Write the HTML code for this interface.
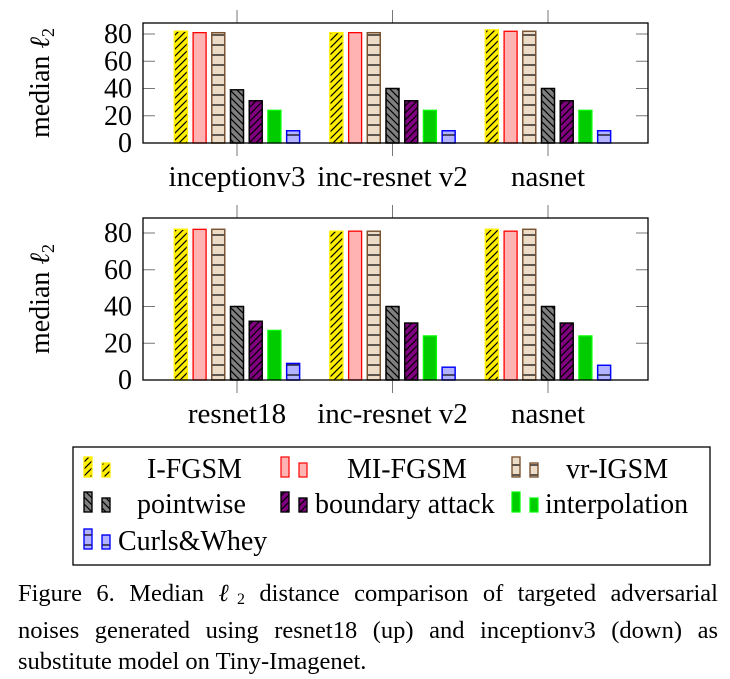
<!DOCTYPE html>
<html><head><meta charset="utf-8"><style>
body{margin:0;background:#fff;width:730px;height:679px;overflow:hidden;position:relative}
svg{display:block;position:absolute;left:0;top:0}
svg text{font-family:"Liberation Serif","DejaVu Serif",serif;fill:#000}
#cap{position:absolute;left:18px;top:578px;width:700px;font-family:"Liberation Serif","DejaVu Serif",serif;font-size:24.5px;line-height:31px;color:#000}
#cap div{text-align:justify;text-align-last:justify;white-space:nowrap}
#cap div.last{text-align-last:left}
</style></head><body>
<svg id="svg" width="730" height="679" viewBox="0 0 730 679" font-family="Liberation Serif, serif">
<defs>
<pattern id="pNE" patternUnits="userSpaceOnUse" width="7" height="7"><path d="M-1,1 l2,-2 M0,7 l7,-7 M6,8 l2,-2" stroke="#000" stroke-width="1.2"/></pattern>
<pattern id="pNW" patternUnits="userSpaceOnUse" width="7" height="7"><path d="M-1,6 l2,2 M0,0 l7,7 M6,-1 l2,2" stroke="#000" stroke-width="1.2"/></pattern>
<pattern id="pH" patternUnits="userSpaceOnUse" width="7" height="10"><path d="M0,5 h7" stroke="#000" stroke-width="1.2"/></pattern>
</defs>
<g id="charts"></g>
<rect x="73" y="447" width="637" height="118" fill="none" stroke="#000" stroke-width="1.3"/>
<g id="legend"></g>
</svg>
<div id="cap">
<div>Figure 6. Median <i>ℓ</i><sub style="font-size:16px;vertical-align:-3px">2</sub> distance comparison of targeted adversarial</div>
<div>noises generated using resnet18 (up) and inceptionv3 (down) as</div>
<div class="last">substitute model on Tiny-Imagenet.</div>
</div>
<script>
const seriesNames=["I-FGSM","MI-FGSM","vr-IGSM","pointwise","boundary attack","interpolation","Curls&Whey"];
const topCategories=["inceptionv3","inc-resnet v2","nasnet"];
const bottomCategories=["resnet18","inc-resnet v2","nasnet"];
const topValues=[[82,81,81,39,31,24,9],[81,81,81,40,31,24,9],[83,82,82,40,31,24,9]];
const bottomValues=[[82,82,82,40,32,27,9],[81,81,81,40,31,24,7],[82,81,82,40,31,24,8]];
const yTicks=[0,20,40,60,80];
const styles=[
 {fill:"#ffee00",stroke:"#ffee00",pat:"pNE"},
 {fill:"#ffb3b3",stroke:"#ff0000",pat:null},
 {fill:"#eddcc8",stroke:"#7a5230",pat:"pH"},
 {fill:"#808080",stroke:"#000",pat:"pNW"},
 {fill:"#800080",stroke:"#000",pat:"pNE"},
 {fill:"#00cc00",stroke:"#00ff00",pat:null},
 {fill:"#b3b3ff",stroke:"#0000ff",pat:"pH"}];
const NS="http://www.w3.org/2000/svg";
function mk(tag,attrs,parent){const e=document.createElementNS(NS,tag);for(const k in attrs)e.setAttribute(k,attrs[k]);parent.appendChild(e);return e;}
const root=document.getElementById('charts');
function chart(cats,vals,top,bottom,y80,name){
 const g=mk('g',{},root);
 
 
 const L=143,R=648;
 const y=v=>bottom-(bottom-y80)*v/80;
 const x=i=>237+i*155.5;
 yTicks.forEach(t=>{
  mk('line',{x1:L,x2:L+12,y1:y(t),y2:y(t),stroke:'#777'},g);
  mk('line',{x1:R-12,x2:R,y1:y(t),y2:y(t),stroke:'#777'},g);
  const tx=mk('text',{x:132,y:y(t)+9,'font-size':28,'text-anchor':'end'},g);tx.textContent=t;
  
  
 });
 cats.forEach((c,i)=>{
  mk('line',{x1:x(i),x2:x(i),y1:top-13,y2:top,stroke:'#777'},g);
  mk('line',{x1:x(i),x2:x(i),y1:bottom,y2:bottom+13,stroke:'#777'},g);
  const tx=mk('text',{x:x(i),y:bottom+43,'font-size':29,'text-anchor':'middle'},g);tx.textContent=c;
  
  
  vals[i].forEach((v,j)=>{
   const cx=x(i)+(j-3)*18.7, w=13, s=styles[j];
   const r=mk('rect',{x:cx-w/2,y:y(v),width:w,height:bottom-y(v),fill:s.fill,stroke:s.stroke,'stroke-width':1.3},g);
   
   
   if(s.pat){const p=mk('rect',{x:cx-w/2,y:y(v),width:w,height:bottom-y(v),fill:'url(#'+s.pat+')',stroke:s.stroke,'stroke-width':1.3},g);
    
    }
  });
 });
 mk('rect',{x:L,y:top,width:R-L,height:bottom-top,fill:'none',stroke:'#000','stroke-width':1.3},g);
 const yl=mk('text',{x:0,y:0,'font-size':28,'text-anchor':'middle',transform:`translate(49,${(top+bottom)/2}) rotate(-90)`},g);
 yl.innerHTML='median <tspan font-style="italic">ℓ</tspan><tspan font-size="18" dy="5">2</tspan>';
 
 
}
chart(topCategories,topValues,23,143,34,'top-chart');
chart(bottomCategories,bottomValues,218,380,233,'bottom-chart');
const lg=document.getElementById('legend');
const pos=[[84,475,147],[281,475,347],[512,475,566],[84,510,137],[281,510,315],[512,510,545],[84,547,118]];
seriesNames.forEach((n,j)=>{
 const [sx,sy,tx]=pos[j], s=styles[j];
 const g=mk('g',{},lg);
 
 
 [0,18].forEach((o,k)=>{
  const h=k?14:20, yy=sy-(k?14:20)+2;
  mk('rect',{x:sx+o,y:yy,width:8,height:h,fill:s.fill,stroke:s.stroke,'stroke-width':1.2},g);
  if(s.pat)mk('rect',{x:sx+o,y:yy,width:8,height:h,fill:'url(#'+s.pat+')',stroke:s.stroke,'stroke-width':1.2},g);
 });
 const t=mk('text',{x:tx,y:sy+3,'font-size':28},g);t.textContent=n;
});
</script>
</body></html>
